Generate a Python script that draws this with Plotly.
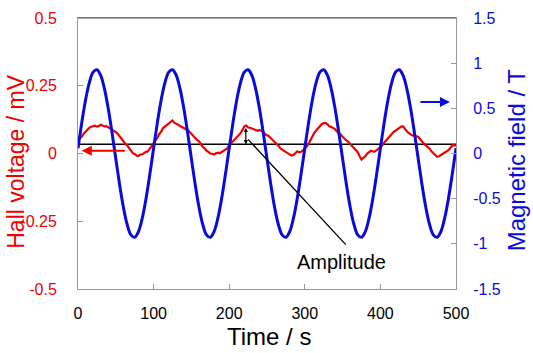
import plotly.graph_objects as go

# ---- data ----
field_t = [i * 5 for i in range(101)]

# Magnetic field (T), right axis
field_T = [0.058, 0.342, 0.593, 0.785, 0.901, 0.928, 0.865, 0.716, 0.498, 0.231,
           -0.058, -0.342, -0.593, -0.785, -0.901, -0.928, -0.865, -0.716, -0.498, -0.231,
           0.058, 0.342, 0.593, 0.785, 0.901, 0.928, 0.865, 0.716, 0.498, 0.231,
           -0.058, -0.342, -0.593, -0.785, -0.901, -0.928, -0.865, -0.716, -0.498, -0.231,
           0.058, 0.342, 0.593, 0.785, 0.901, 0.928, 0.865, 0.716, 0.498, 0.231,
           -0.058, -0.342, -0.593, -0.785, -0.901, -0.928, -0.865, -0.716, -0.498, -0.231,
           0.058, 0.342, 0.593, 0.785, 0.901, 0.928, 0.865, 0.716, 0.498, 0.231,
           -0.058, -0.342, -0.593, -0.785, -0.901, -0.928, -0.865, -0.716, -0.498, -0.231,
           0.058, 0.342, 0.593, 0.785, 0.901, 0.928, 0.865, 0.716, 0.498, 0.231,
           -0.058, -0.342, -0.593, -0.785, -0.901, -0.928, -0.865, -0.716, -0.498, -0.231,
           0.058]

# Hall voltage (mV), left axis, sampled every 2.5 s
hall_t = [i * 2.5 for i in range(201)]
hall_mV = [0.050, 0.055, 0.062, 0.073, 0.080, 0.090, 0.095, 0.099, 0.101, 0.103,
           0.099, 0.101, 0.106, 0.104, 0.100, 0.101, 0.097, 0.094, 0.088, 0.086,
           0.079, 0.073, 0.063, 0.057, 0.047, 0.036, 0.030, 0.019, 0.012, 0.001,
           -0.002, -0.008, -0.009, -0.004, -0.003, 0.003, 0.006, 0.008, 0.018, 0.024,
           0.035, 0.045, 0.058, 0.072, 0.080, 0.094, 0.100, 0.104, 0.112, 0.118,
           0.122, 0.114, 0.110, 0.109, 0.105, 0.100, 0.095, 0.093, 0.086, 0.080,
           0.072, 0.067, 0.058, 0.050, 0.045, 0.033, 0.025, 0.019, 0.010, 0.006,
           0.000, -0.001, -0.004, 0.001, 0.003, 0.001, 0.005, 0.010, 0.014, 0.019,
           0.030, 0.037, 0.046, 0.051, 0.060, 0.068, 0.075, 0.087, 0.100, 0.103,
           0.096, 0.095, 0.092, 0.089, 0.088, 0.084, 0.087, 0.083, 0.080, 0.071,
           0.068, 0.064, 0.056, 0.048, 0.044, 0.036, 0.030, 0.019, 0.014, 0.010,
           0.005, -0.001, -0.004, -0.008, -0.006, 0.002, 0.008, 0.004, 0.006, 0.011,
           0.018, 0.026, 0.036, 0.050, 0.062, 0.076, 0.085, 0.094, 0.100, 0.108,
           0.112, 0.113, 0.108, 0.100, 0.098, 0.095, 0.090, 0.081, 0.076, 0.070,
           0.062, 0.053, 0.048, 0.043, 0.036, 0.026, 0.020, 0.014, 0.005, -0.010,
           -0.022, -0.016, -0.010, 0.000, 0.004, 0.010, 0.008, 0.007, 0.012, 0.017,
           0.022, 0.030, 0.040, 0.048, 0.058, 0.068, 0.075, 0.080, 0.084, 0.090,
           0.094, 0.099, 0.100, 0.090, 0.082, 0.075, 0.072, 0.066, 0.068, 0.063,
           0.062, 0.052, 0.045, 0.036, 0.030, 0.025, 0.018, 0.008, 0.000, -0.008,
           -0.012, -0.010, -0.006, 0.000, 0.002, 0.008, 0.012, 0.020, 0.030, 0.031,
           0.028]

baseline_t = [0, 500]
baseline_mV = [0.034, 0.034]

x_ticks = [0, 100, 200, 300, 400, 500]
y_ticks = [-0.5, -0.25, 0, 0.25, 0.5]
y_ticktext = ["-0.5", "-0.25", "0", "0.25", "0.5"]
y2_ticks = [-1.5, -1, -0.5, 0, 0.5, 1, 1.5]
y2_ticktext = ["-1.5", "-1", "-0.5", "0", "0.5", "1", "1.5"]

RED = "#f00000"
BLUE = "#0a0adc"
FONT = "Liberation Sans, Arial, sans-serif"
AX = "#999999"

fig = go.Figure()
fig.add_trace(go.Scatter(x=baseline_t, y=baseline_mV, mode="lines",
                         line=dict(color="black", width=1.5), yaxis="y", showlegend=False))
fig.add_trace(go.Scatter(x=hall_t, y=hall_mV, mode="lines",
                         line=dict(color=RED, width=2.2), yaxis="y", showlegend=False))
fig.add_trace(go.Scatter(x=field_t, y=field_T, mode="lines",
                         line=dict(color=BLUE, width=3, shape="spline", smoothing=1.0),
                         yaxis="y2", showlegend=False))

fig.update_layout(
    width=533, height=353,
    margin=dict(l=78, r=77, t=10, b=64),
    paper_bgcolor="white", plot_bgcolor="white",
    font=dict(family=FONT, size=16, color="black"),
    xaxis=dict(range=[0, 500], tickvals=x_ticks, ticks="inside", ticklen=5,
               tickcolor=AX, showline=True, linecolor=AX, linewidth=1, mirror=True,
               showgrid=False, zeroline=False, tickfont=dict(size=16, color="black"),
               ticklabelstandoff=10),
    yaxis=dict(range=[-0.5, 0.5], tickvals=y_ticks, ticktext=y_ticktext, ticks="inside",
               ticklen=5, tickcolor=AX, showline=True, linecolor=AX, linewidth=1,
               showgrid=False, zeroline=False, tickfont=dict(size=16, color=RED),
               ticklabelstandoff=17),
    yaxis2=dict(range=[-1.5, 1.5], tickvals=y2_ticks, ticktext=y2_ticktext, ticks="inside",
                ticklen=5, tickcolor=AX, showline=True, linecolor=AX, linewidth=1,
                overlaying="y", side="right", showgrid=False, zeroline=False,
                tickfont=dict(size=16, color=BLUE), ticklabelstandoff=13),
)

# axis titles
fig.add_annotation(text="Time / s", xref="paper", yref="paper", x=0.5066, y=-0.176,
                   xanchor="center", yanchor="middle", showarrow=False,
                   font=dict(size=24, color="black"))
fig.add_annotation(text="Hall voltage / mV", xref="paper", yref="paper", x=-0.164, y=0.4695,
                   xanchor="center", yanchor="middle", textangle=-90, showarrow=False,
                   font=dict(size=23, color=RED))
fig.add_annotation(text="Magnetic field / T", xref="paper", yref="paper", x=1.1587, y=0.4785,
                   xanchor="center", yanchor="middle", textangle=-90, showarrow=False,
                   font=dict(size=24, color=BLUE))

# top frame line
fig.add_shape(type="line", xref="paper", yref="paper", x0=0, x1=1, y0=1, y1=1,
              line=dict(color="#555555", width=1))

# red arrow (points to left axis)
fig.add_annotation(x=5, y=0.01, ax=64, ay=0.01, xref="x", yref="y", axref="x", ayref="y",
                   text="", showarrow=True, arrowhead=2, arrowsize=1, arrowwidth=2,
                   arrowcolor=RED)
# blue arrow (points to right axis)
fig.add_annotation(x=492, y=0.57, ax=451, ay=0.57, xref="x", yref="y2", axref="x", ayref="y2",
                   text="", showarrow=True, arrowhead=2, arrowsize=1, arrowwidth=2,
                   arrowcolor=BLUE)
# amplitude double arrow
fig.add_annotation(x=222, y=0.034, ax=222, ay=0.1, xref="x", yref="y", axref="x", ayref="y",
                   text="", showarrow=True, arrowhead=2, arrowside="end+start",
                   arrowsize=0.7, arrowwidth=1.2, arrowcolor="black")
# leader line
fig.add_annotation(x=225, y=0.052, ax=356, ay=-0.342, xref="x", yref="y", axref="x", ayref="y",
                   text="", showarrow=True, arrowhead=0, arrowwidth=1.3, arrowcolor="black")
fig.add_annotation(x=348, y=-0.4, xref="x", yref="y", text="Amplitude", showarrow=False,
                   font=dict(size=20, color="black"))

fig.write_html("out.html")
